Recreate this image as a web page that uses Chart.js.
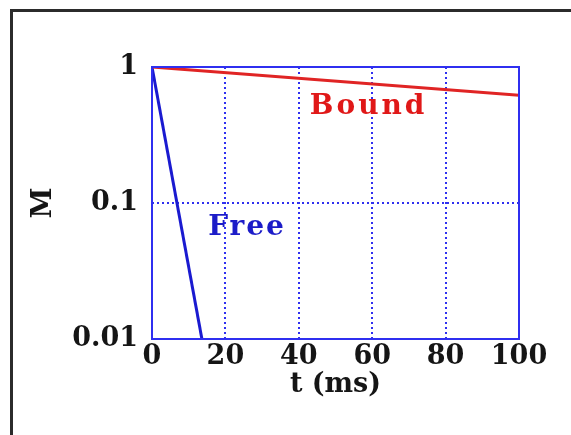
<!DOCTYPE html>
<html lang="en">
<head>
    <meta charset="UTF-8">
    <title>M vs t</title>
    <script src="https://cdn.jsdelivr.net/npm/chart.js"></script>
    <style>
        body { margin: 0; background: #fff; }
        .wrap { position: relative; width: 571px; height: 435px; overflow: hidden; }
        .frame { position: absolute; left: 10px; top: 9px; width: 700px; height: 600px; border: 3px solid #2b2b2b; pointer-events: none; }
    </style>
</head>
<body>
    <div class="wrap">
        <canvas id="chart" width="571" height="435"></canvas>
        <div class="frame"></div>
    </div>

    <script>
        // data
        const boundT = [0, 100];
        const boundM = [1, 0.62];
        const freeT = [0, 13.6];
        const freeM = [1, 0.01];

        const xTicks = [0, 20, 40, 60, 80, 100];
        const yTicks = [0.01, 0.1, 1];
        const yTickLabels = ["0.01", "0.1", "1"];

        const serif = "'DejaVu Serif', 'Liberation Serif', serif";
        const frameBlue = "#2f2ff0";

        function toPoints(xs, ys) {
            return xs.map((x, i) => ({ x: x, y: ys[i] }));
        }

        // plot frame + curve labels
        const decorations = {
            id: "decorations",
            afterDatasetsDraw(chart) {
                const { ctx, chartArea: a, scales } = chart;
                ctx.save();
                ctx.strokeStyle = frameBlue;
                ctx.lineWidth = 2;
                ctx.strokeRect(a.left, a.top, a.right - a.left, a.bottom - a.top);

                ctx.font = "bold 28px " + serif;
                ctx.letterSpacing = "3px";
                ctx.textBaseline = "middle";
                ctx.fillStyle = "#e01818";
                ctx.fillText("Bound", scales.x.getPixelForValue(43), scales.y.getPixelForValue(0.51));
                ctx.letterSpacing = "2px";
                ctx.fillStyle = "#1c1cc8";
                ctx.fillText("Free", scales.x.getPixelForValue(15.3), scales.y.getPixelForValue(0.066));
                ctx.restore();
            }
        };

        const gridColor = (ctx, n) => (ctx.index === 0 || ctx.index === n - 1) ? "rgba(0,0,0,0)" : frameBlue;

        new Chart(document.getElementById("chart"), {
            type: "line",
            data: {
                datasets: [
                    {
                        label: "Bound",
                        data: toPoints(boundT, boundM),
                        borderColor: "#e02424",
                        borderWidth: 3,
                        pointRadius: 0
                    },
                    {
                        label: "Free",
                        data: toPoints(freeT, freeM),
                        borderColor: "#1a1ad0",
                        borderWidth: 3,
                        pointRadius: 0
                    }
                ]
            },
            options: {
                responsive: false,
                animation: false,
                layout: { padding: { left: 0, top: 67, right: 52, bottom: 0 } },
                plugins: { legend: { display: false }, tooltip: { enabled: false } },
                scales: {
                    x: {
                        type: "linear",
                        min: 0,
                        max: 100,
                        afterBuildTicks: s => { s.ticks = xTicks.map(v => ({ value: v })); },
                        afterFit: s => { s.height = 96; },
                        grid: {
                            color: c => gridColor(c, xTicks.length),
                            lineWidth: 2,
                            drawTicks: false
                        },
                        border: { display: false, dash: [2, 3] },
                        ticks: {
                            color: "#151515",
                            padding: 2,
                            maxRotation: 0,
                            font: { family: serif, size: 27, weight: "bold" }
                        },
                        title: {
                            display: true,
                            text: "t (ms)",
                            color: "#151515",
                            padding: { top: 0, bottom: 34 },
                            font: { family: serif, size: 27, weight: "bold" }
                        }
                    },
                    y: {
                        type: "logarithmic",
                        min: 0.01,
                        max: 1,
                        afterBuildTicks: s => { s.ticks = yTicks.map(v => ({ value: v })); },
                        afterFit: s => { s.width = 152; },
                        grid: {
                            color: c => gridColor(c, yTicks.length),
                            lineWidth: 2,
                            drawTicks: false
                        },
                        border: { display: false, dash: [2, 3] },
                        ticks: {
                            color: "#151515",
                            padding: 14,
                            font: { family: serif, size: 27, weight: "bold" },
                            callback: (v, i) => yTickLabels[i]
                        },
                        title: {
                            display: true,
                            text: "M",
                            color: "#151515",
                            padding: { top: 27, bottom: 0 },
                            font: { family: serif, size: 28, weight: "bold" }
                        }
                    }
                }
            },
            plugins: [decorations]
        });
    </script>
</body>
</html>
